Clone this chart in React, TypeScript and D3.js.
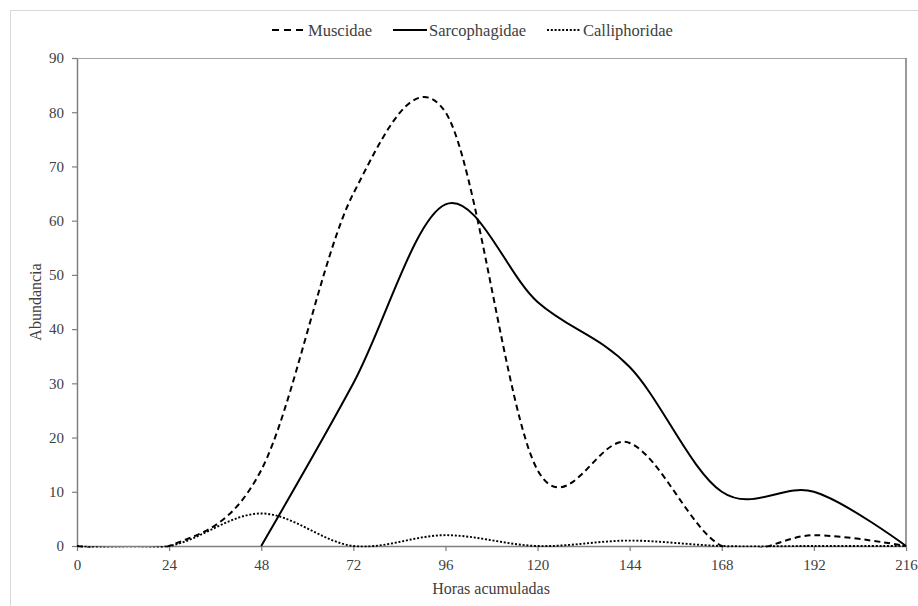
import React, { useEffect, useRef } from 'react';
import * as d3 from 'd3';

const hours = [0, 24, 48, 72, 96, 120, 144, 168, 192, 216];
const muscidae = [0, 0, 14, 65, 80, 14, 19, 0, 2, 0];
const sarcophagidae = [null, null, 0, 30, 63, 45, 33, 10, 10, 0];
const calliphoridae = [0, 0, 6, 0, 2, 0, 1, 0, 0, 0];
const xTicks = [0, 24, 48, 72, 96, 120, 144, 168, 192, 216];
const yTicks = [0, 10, 20, 30, 40, 50, 60, 70, 80, 90];

const W = 918;
const H = 606;
const FONT = '"Liberation Serif", "Times New Roman", serif';

const series = [
  { name: 'Muscidae', values: muscidae, dash: '6,4', width: 2 },
  { name: 'Sarcophagidae', values: sarcophagidae, dash: null, width: 2 },
  { name: 'Calliphoridae', values: calliphoridae, dash: '2,1.8', width: 1.9 },
];

// legend sample start positions
const legendX = [272, 393, 547];

const App = () => {
  const svgRef = useRef<SVGSVGElement | null>(null);

  useEffect(() => {
    if (!svgRef.current) return;
    const svg = d3.select(svgRef.current);
    svg.selectAll('*').remove();

    const m = { left: 77, right: 906, top: 58, bottom: 546 };
    const x = d3.scaleLinear().domain([0, 216]).range([m.left, m.right]);
    const y = d3.scaleLinear().domain([0, 90]).range([m.bottom, m.top]);

    // outer chart border
    svg.append('rect')
      .attr('x', 10.5).attr('y', 10.5)
      .attr('width', W + 20).attr('height', H + 20)
      .attr('fill', 'white').attr('stroke', '#d9d9d9');

    svg.append('defs').append('clipPath').attr('id', 'plotClip')
      .append('rect')
      .attr('x', m.left).attr('y', m.top)
      .attr('width', m.right - m.left + 2).attr('height', m.bottom - m.top + 1.6);

    // plot area border (top / right)
    svg.append('line')
      .attr('x1', m.left).attr('x2', m.right).attr('y1', m.top + 0.5).attr('y2', m.top + 0.5)
      .attr('stroke', '#a6a6a6').attr('stroke-width', 1.2);
    svg.append('line')
      .attr('x1', m.right).attr('x2', m.right).attr('y1', m.top).attr('y2', m.bottom)
      .attr('stroke', '#808080').attr('stroke-width', 1.6);

    // axes
    const xAxis = svg.append('g')
      .attr('transform', `translate(0,${m.bottom})`)
      .call(d3.axisBottom(x).tickValues(xTicks).tickSizeInner(5).tickSizeOuter(0).tickPadding(6));
    const yAxis = svg.append('g')
      .attr('transform', `translate(${m.left},0)`)
      .call(d3.axisLeft(y).tickValues(yTicks).tickSizeInner(5).tickSizeOuter(0).tickPadding(8));

    [xAxis, yAxis].forEach(a => {
      a.select('.domain').attr('stroke', '#7f7f7f').attr('stroke-width', 1.5);
      a.selectAll('.tick line').attr('stroke', '#7f7f7f').attr('stroke-width', 1.2);
      a.selectAll('.tick text')
        .attr('fill', '#404040')
        .style('font-family', FONT)
        .style('font-size', '15px');
    });
    xAxis.selectAll('.tick text').attr('dy', '0.85em');

    // lines (clipped to the plot area like the original)
    const lines = svg.append('g').attr('clip-path', 'url(#plotClip)');
    series.forEach(s => {
      const pts = hours
        .map((h, i) => ({ h, v: s.values[i] }))
        .filter(p => p.v !== null) as { h: number; v: number }[];
      const line = d3.line<{ h: number; v: number }>()
        .x(p => x(p.h))
        .y(p => y(p.v))
        .curve(d3.curveCardinal.tension(0));
      const path = lines.append('path')
        .datum(pts)
        .attr('d', line)
        .attr('fill', 'none')
        .attr('stroke', '#000')
        .attr('stroke-width', s.width);
      if (s.dash) path.attr('stroke-dasharray', s.dash);
    });

    // axis titles
    svg.append('text')
      .attr('x', 491).attr('y', 594)
      .attr('text-anchor', 'middle')
      .attr('fill', '#404040')
      .style('font-family', FONT).style('font-size', '16px')
      .text('Horas acumuladas');
    svg.append('text')
      .attr('transform', `translate(41,${(m.top + m.bottom) / 2}) rotate(-90)`)
      .attr('text-anchor', 'middle')
      .attr('fill', '#404040')
      .style('font-family', FONT).style('font-size', '16px')
      .text('Abundancia');

    // legend
    const legend = svg.append('g');
    series.forEach((s, i) => {
      const lx = legendX[i];
      const ln = legend.append('line')
        .attr('x1', lx).attr('x2', lx + 34).attr('y1', 30).attr('y2', 30)
        .attr('stroke', '#000').attr('stroke-width', s.width);
      if (s.dash) ln.attr('stroke-dasharray', s.name === 'Muscidae' ? '7,5' : s.dash);
      legend.append('text')
        .attr('x', lx + 36).attr('y', 36)
        .attr('fill', '#404040')
        .style('font-family', FONT).style('font-size', '16.5px')
        .text(s.name);
    });
  }, []);

  return (
    <svg ref={svgRef} width={W} height={H} style={{ display: 'block', position: 'absolute', left: 0, top: 0 }} />
  );
};

export default App;
